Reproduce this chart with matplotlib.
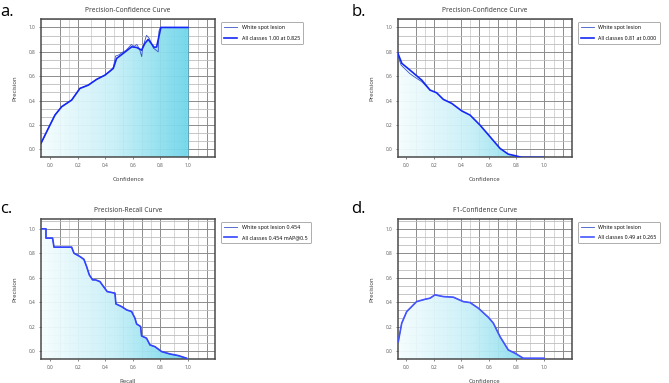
import numpy as np
import matplotlib
matplotlib.use("Agg")
import matplotlib.pyplot as plt
from matplotlib.colors import LinearSegmentedColormap

plt.rcParams['font.family'] = ['Open Sans', 'DejaVu Sans']

# ---- data ----
# a. precision-confidence (all classes)
pc_a_x = [-0.065, -0.012, 0.036, 0.085, 0.157, 0.217, 0.278, 0.338, 0.399, 0.459, 0.483,
          0.531, 0.592, 0.628, 0.664, 0.688, 0.712, 0.756, 0.773, 0.804, 1.0]
pc_a_y = [0.05, 0.172, 0.281, 0.35, 0.404, 0.50, 0.527, 0.574, 0.609, 0.664, 0.746,
          0.787, 0.841, 0.836, 0.814, 0.869, 0.902, 0.836, 0.84, 1.0, 1.0]
# a. white spot lesion (thin line)
pc_a_ws_x = [-0.065, -0.012, 0.036, 0.085, 0.157, 0.217, 0.278, 0.338, 0.399, 0.44, 0.46,
             0.475, 0.50, 0.53, 0.55, 0.57, 0.59, 0.61, 0.63, 0.65, 0.665, 0.672, 0.69,
             0.70, 0.72, 0.75, 0.785, 0.79, 0.80, 1.0]
pc_a_ws_y = [0.05, 0.172, 0.281, 0.35, 0.404, 0.50, 0.527, 0.574, 0.609, 0.645, 0.675,
             0.765, 0.775, 0.80, 0.81, 0.835, 0.86, 0.845, 0.86, 0.82, 0.76, 0.83, 0.90,
             0.935, 0.91, 0.83, 0.80, 0.97, 1.0, 1.0]

# b. precision-confidence
pc_b_x = [-0.063, -0.03, 0.029, 0.114, 0.174, 0.222, 0.27, 0.331, 0.403, 0.464, 0.536,
          0.609, 0.681, 0.74, 0.79, 0.838, 0.993]
pc_b_y = [0.80, 0.705, 0.65, 0.568, 0.486, 0.464, 0.41, 0.377, 0.316, 0.281, 0.199,
          0.103, 0.008, -0.039, -0.052, -0.066, -0.066]
pc_b_ws_x = [-0.063, -0.035, 0.029, 0.06, 0.114, 0.174]
pc_b_ws_y = [0.78, 0.69, 0.62, 0.595, 0.555, 0.486]

# c. precision-recall (step curve)
pr_x = [-0.06, -0.029, -0.029, 0.019, 0.029, 0.157, 0.174, 0.217, 0.246, 0.266, 0.285,
        0.309, 0.33, 0.362, 0.391, 0.415, 0.471, 0.478, 0.519, 0.556, 0.592, 0.616,
        0.628, 0.657, 0.664, 0.70, 0.725, 0.761, 0.809, 0.87, 0.93, 0.99]
pr_y = [1.0, 1.0, 0.924, 0.924, 0.85, 0.85, 0.80, 0.773, 0.75, 0.69, 0.623,
        0.582, 0.582, 0.568, 0.522, 0.486, 0.473, 0.385, 0.363, 0.336, 0.322, 0.268,
        0.221, 0.20, 0.123, 0.104, 0.049, 0.035, -0.005, -0.025, -0.038, -0.06]

# d. F1-confidence
f1_x = [-0.056, -0.031, 0.005, 0.077, 0.138, 0.174, 0.21, 0.27, 0.343, 0.415, 0.464,
        0.524, 0.596, 0.633, 0.681, 0.741, 0.79, 0.85, 1.0]
f1_y = [0.076, 0.227, 0.322, 0.404, 0.423, 0.432, 0.459, 0.445, 0.44, 0.404, 0.396,
        0.35, 0.276, 0.227, 0.117, 0.008, -0.019, -0.06, -0.06]

titles = ['Precision-Confidence Curve', 'Precision-Confidence Curve',
          'Precision-Recall Curve', 'F1-Confidence Curve']
xlabels = ['Confidence', 'Confidence', 'Recall', 'Confidence']
legend_ws = ['White spot lesion', 'White spot lesion', 'White spot lesion 0.454', 'White spot lesion']
legend_all = ['All classes 1.00 at 0.825', 'All classes 0.81 at 0.000',
              'All classes 0.454 mAP@0.5', 'All classes 0.49 at 0.265']
letters = ['a.', 'b.', 'c.', 'd.']
ticks = [0.0, 0.2, 0.4, 0.6, 0.8, 1.0]
tick_labels = ['0.0', '0.2', '0.4', '0.6', '0.8', '1.0']

grad = LinearSegmentedColormap.from_list('g', ['#f6fdfe', '#c8f0f8', '#6fd6ea'])


def panel(ax, x, y, xws, yws, ylim, thick_col, i):
    ax.set_xlim(-0.06, 1.2)
    ax.set_ylim(*ylim)
    # grid
    for gx in [0.07, 0.2, 0.4, 0.53, 0.67, 0.8, 1.0, 1.135]:
        ax.axvline(gx, color='#8c8c8c', lw=0.7, zorder=0)
    for gx in [0.135, 0.3, 0.465, 0.6, 0.735, 0.9, 1.07]:
        ax.axvline(gx, color='#d0d0d0', lw=0.6, zorder=0)
    for k in range(-1, 17):
        gy = k * 0.2 / 3
        dark = (k % 3 == 0)
        ax.axhline(gy, color='#8c8c8c' if dark else '#bdbdbd', lw=0.7 if dark else 0.6, zorder=0)

    # gradient fill below the curve
    bottom = ylim[0]
    poly = ax.fill_between(x, y, bottom, color='none', lw=0, zorder=1)
    img = ax.imshow(np.linspace(0, 1, 256).reshape(1, -1), cmap=grad, aspect='auto',
                    extent=[-0.065, 1.0, bottom, 1.0], alpha=0.95, zorder=1)
    img.set_clip_path(poly.get_paths()[0], transform=ax.transData)
    ax.plot([1.0, 1.0], [bottom, y[-1]], color='#5aa9bd', lw=0.6, zorder=2)

    ax.plot(xws, yws, color='#3a55c8', lw=0.6, zorder=3, label=legend_ws[i])
    ax.plot(x, y, color=thick_col, lw=1.2, zorder=4, label=legend_all[i])

    ax.set_xticks(ticks)
    ax.set_yticks(ticks)
    ax.set_xticklabels(tick_labels)
    ax.set_yticklabels(tick_labels)
    ax.tick_params(length=1.5, width=0.5, labelsize=3.4, pad=2.5, colors='#555555')
    for s in ax.spines.values():
        s.set_color('#4a4a4a')
        s.set_linewidth(1.1)
    ax.set_title(titles[i], fontsize=4.8, pad=5, color='#333333')
    ax.set_xlabel(xlabels[i], fontsize=4.3, labelpad=7, color='#333333')
    ax.set_ylabel('Precision', fontsize=4.3, labelpad=8, color='#333333')
    leg = ax.legend(loc='upper left', bbox_to_anchor=(1.02, 1.0), fontsize=3.9,
                    frameon=True, fancybox=True, edgecolor='#888888',
                    handlelength=2.4, borderpad=0.6, labelspacing=1.0)
    leg.get_frame().set_linewidth(0.6)


fig = plt.figure(figsize=(6.69, 3.83), dpi=100)
ax_a = fig.add_axes([0.0613, 0.590, 0.26, 0.360])
ax_b = fig.add_axes([0.5945, 0.590, 0.26, 0.360])
ax_c = fig.add_axes([0.0613, 0.0627, 0.26, 0.366])
ax_d = fig.add_axes([0.5945, 0.0627, 0.26, 0.366])

panel(ax_a, pc_a_x, pc_a_y, pc_a_ws_x, pc_a_ws_y, (-0.063, 1.068), '#1428f5', 0)
ax_a.set_xlim(-0.065, 1.196)
panel(ax_b, pc_b_x, pc_b_y, pc_b_ws_x, pc_b_ws_y, (-0.063, 1.068), '#1428f5', 1)
panel(ax_c, pr_x, pr_y, pr_x, pr_y, (-0.066, 1.082), '#3344ff', 2)
ax_c.set_xlim(-0.065, 1.196)
panel(ax_d, f1_x, f1_y, f1_x, f1_y, (-0.066, 1.082), '#4455ff', 3)

fig.text(0.0, 0.99, letters[0], fontsize=12, va='top', ha='left')
fig.text(0.525, 0.99, letters[1], fontsize=12, va='top', ha='left')
fig.text(0.0, 0.475, letters[2], fontsize=12, va='top', ha='left')
fig.text(0.525, 0.475, letters[3], fontsize=12, va='top', ha='left')

fig.savefig('out.png', dpi=100)
